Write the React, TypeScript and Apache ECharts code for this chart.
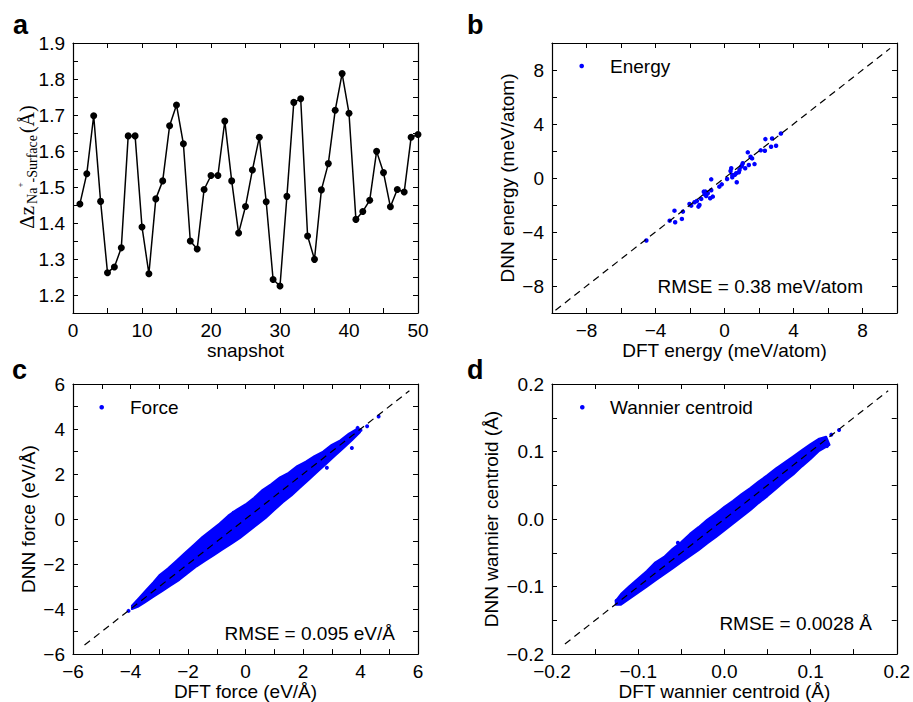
import React, { useEffect, useRef } from 'react';
import * as echarts from 'echarts';

// ---------- data ----------
const snapshot = [
  1, 2, 3, 4, 5, 6, 7, 8, 9, 10, 11, 12, 13, 14, 15, 16, 17, 18, 19, 20, 21, 22, 23, 24, 25,
  26, 27, 28, 29, 30, 31, 32, 33, 34, 35, 36, 37, 38, 39, 40, 41, 42, 43, 44, 45, 46, 47, 48, 49, 50,
];
const dzValues = [
  1.453, 1.537, 1.698, 1.46, 1.262, 1.278, 1.331, 1.642, 1.642, 1.389,
  1.259, 1.467, 1.517, 1.67, 1.728, 1.62, 1.35, 1.328, 1.493, 1.532,
  1.532, 1.683, 1.517, 1.372, 1.446, 1.547, 1.638, 1.459, 1.243, 1.225,
  1.474, 1.735, 1.745, 1.364, 1.299, 1.492, 1.565, 1.713, 1.815, 1.705,
  1.41, 1.432, 1.463, 1.599, 1.54, 1.445, 1.493, 1.486, 1.638, 1.646,
];

const energyPoints = [
  [-4.53, -4.63], [-3.18, -3.16], [-2.9, -2.42], [-2.86, -3.28], [-2.47, -3.03], [-2.41, -2.49],
  [-2.03, -1.92], [-1.93, -2.05], [-1.74, -1.8], [-1.6, -1.7], [-1.51, -2.12], [-1.45, -2.0],
  [-1.35, -1.55], [-1.2, -1.01], [-1.16, -1.21], [-1.1, -1.01], [-1.06, -1.33], [-0.97, -1.13],
  [-0.83, -1.5], [-0.77, -0.91], [-0.77, -0.1], [-0.68, -1.38], [-0.3, -0.64], [-0.16, -0.47],
  [0.15, -0.07], [0.35, 0.52], [0.39, 0.72], [0.45, 0.22], [0.45, 0.05], [0.6, 0.24], [0.68, 0.35],
  [0.71, -0.32], [0.83, 0.42], [0.87, 0.59], [0.97, 0.84], [1.06, 1.09], [1.01, 0.94], [1.2, 0.72],
  [1.35, 1.9], [1.41, 0.96], [1.51, 1.57], [1.6, 1.45], [1.74, 1.03], [2.1, 2.05], [2.34, 2.02],
  [2.37, 2.88], [2.7, 2.31], [2.76, 2.93], [2.99, 2.39], [3.27, 3.3],
];

// outline of the dense force cloud (upper edge left->right, lower edge right->left)
const forceBandUpper = [
  [-3.95, -3.85], [-3.7, -3.5], [-3.45, -3.15], [-3.2, -2.8], [-3.0, -2.5], [-2.7, -2.2],
  [-2.4, -1.85], [-2.1, -1.5], [-1.8, -1.15], [-1.5, -0.8], [-1.2, -0.5], [-0.9, -0.2],
  [-0.6, 0.15], [-0.3, 0.42], [0.0, 0.65], [0.3, 0.95], [0.6, 1.3], [0.9, 1.55], [1.2, 1.85],
  [1.5, 2.05], [1.8, 2.35], [2.1, 2.55], [2.4, 2.8], [2.7, 3.0], [3.0, 3.3], [3.3, 3.5],
  [3.6, 3.8], [3.85, 3.98], [3.98, 3.98],
];
const forceBandLower = [
  [3.98, 3.85], [3.7, 3.5], [3.4, 3.15], [3.1, 2.8], [2.8, 2.45], [2.5, 2.1], [2.2, 1.75],
  [1.9, 1.4], [1.6, 1.05], [1.3, 0.75], [1.0, 0.4], [0.7, 0.05], [0.4, -0.25], [0.1, -0.55],
  [-0.2, -0.85], [-0.5, -1.1], [-0.8, -1.35], [-1.1, -1.6], [-1.4, -1.85], [-1.7, -2.1],
  [-2.0, -2.4], [-2.3, -2.7], [-2.6, -2.95], [-2.9, -3.2], [-3.2, -3.45], [-3.5, -3.7],
  [-3.75, -3.9], [-3.95, -4.0],
];
const forcePoints = [
  [-4.07, -4.08], [-3.83, -3.86], [-3.54, -3.49], [-3.3, -3.1], [-0.41, 0.28], [1.38, 1.76],
  [2.83, 2.28], [3.7, 3.16], [4.23, 4.12], [4.63, 4.56], [3.9, 4.05], [4.0, 3.95],
];

const wannierBandUpper = [
  [-0.126, -0.121], [-0.12, -0.111], [-0.11, -0.099], [-0.1, -0.088], [-0.09, -0.077],
  [-0.08, -0.064], [-0.07, -0.056], [-0.06, -0.044], [-0.05, -0.034], [-0.04, -0.022],
  [-0.03, -0.012], [-0.02, -0.001], [-0.01, 0.008], [0.0, 0.018], [0.01, 0.027], [0.02, 0.037],
  [0.03, 0.046], [0.04, 0.056], [0.05, 0.065], [0.06, 0.075], [0.07, 0.084], [0.08, 0.093],
  [0.09, 0.102], [0.1, 0.111], [0.11, 0.119], [0.118, 0.122],
];
const wannierBandLower = [
  [0.122, 0.11], [0.11, 0.101], [0.1, 0.089], [0.09, 0.078], [0.08, 0.066], [0.07, 0.056],
  [0.06, 0.045], [0.05, 0.034], [0.04, 0.024], [0.03, 0.013], [0.02, 0.003], [0.01, -0.007],
  [0.0, -0.017], [-0.01, -0.027], [-0.02, -0.036], [-0.03, -0.046], [-0.04, -0.055],
  [-0.05, -0.064], [-0.06, -0.073], [-0.07, -0.082], [-0.08, -0.091], [-0.09, -0.1],
  [-0.1, -0.109], [-0.11, -0.118], [-0.12, -0.127], [-0.126, -0.127],
];
const wannierPoints = [
  [-0.125, -0.121], [-0.054, -0.035], [0.119, 0.108], [0.124, 0.125], [0.133, 0.132],
];

const diagEnergy = [-9.8, 9.6];
const diagForce = [-5.6, 5.7];
const diagWannier = [-0.185, 0.19];

// ---------- helpers ----------
const FONT = "'Liberation Sans', Arial, Helvetica, sans-serif";
const SERIF = "'Liberation Serif', 'Times New Roman', serif";
const MINUS = '\u2212';
const BLUE = '#0000ff';

function fmt(v: number, dec: number) {
  if (Math.abs(v) < 1e-9) v = 0;
  const s = v.toFixed(dec);
  return s.charAt(0) === '-' ? MINUS + s.slice(1) : s;
}
function isMajor(v: number, step: number) {
  const r = v / step;
  return Math.abs(r - Math.round(r)) < 1e-6;
}

function axisPair(
  kind: 'x' | 'y', gridIndex: number, min: number, max: number, interval: number,
  major: number, dec: number, name: string, nameGap: number,
) {
  const common = {
    type: 'value', gridIndex, min, max, interval,
    axisLine: { show: true, onZero: false, lineStyle: { color: '#000', width: 1.2 } },
    axisTick: { show: true, inside: true, length: 5, lineStyle: { color: '#000', width: 1 } },
    splitLine: { show: false },
  };
  const primary = {
    ...common,
    position: kind === 'x' ? 'bottom' : 'left',
    axisLabel: {
      show: true, margin: 8, fontSize: 19, color: '#000', fontFamily: FONT,
      showMinLabel: true, showMaxLabel: true,
      formatter: (v: number) => (isMajor(v, major) ? fmt(v, dec) : ''),
    },
    name, nameLocation: 'middle', nameGap,
    nameTextStyle: { fontSize: 19, color: '#000', fontFamily: FONT },
  };
  const mirror = {
    ...common,
    position: kind === 'x' ? 'top' : 'right',
    axisLabel: { show: false },
  };
  return [primary, mirror];
}

function diagSeries(xi: number, range: number[]) {
  return {
    type: 'line', xAxisIndex: xi, yAxisIndex: xi, silent: true, z: 5,
    data: [[range[0], range[0]], [range[1], range[1]]],
    symbol: 'none',
    lineStyle: { color: '#000', width: 1.2, type: [7, 5] },
  };
}

function bandSeries(name: string, xi: number, upper: number[][], lower: number[][]) {
  return {
    type: 'custom', name, xAxisIndex: xi, yAxisIndex: xi, silent: true, z: 2,
    data: [[0, 0]],
    renderItem: (_p: any, api: any) => {
      const pts = upper.concat(lower).map((p) => api.coord(p));
      return {
        type: 'polygon',
        shape: { points: pts },
        style: { fill: BLUE, stroke: BLUE, lineWidth: 2, lineJoin: 'round' },
      };
    },
  };
}

function scatterSeries(name: string, xi: number, data: number[][], size: number) {
  return {
    type: 'scatter', name, xAxisIndex: xi, yAxisIndex: xi, z: 3,
    data, symbol: 'circle', symbolSize: size,
    itemStyle: { color: BLUE, opacity: 1 },
  };
}

function label(text: string, x: number, y: number, opts: any = {}) {
  return {
    type: 'text', x, y, silent: true,
    style: {
      text, fill: '#000', fontSize: opts.fontSize || 19, fontFamily: FONT,
      align: opts.align || 'left', textAlign: opts.align || 'left',
      verticalAlign: 'middle', textVerticalAlign: 'middle',
      fontWeight: opts.bold ? 'bold' : 'normal',
    },
  };
}

function legendGraphic(text: string, dotX: number, dotY: number, textX: number) {
  return [
    { type: 'circle', silent: true, shape: { cx: dotX, cy: dotY, r: 2.3 }, style: { fill: BLUE } },
    label(text, textX, dotY),
  ];
}

export default function App() {
  const ref = useRef<HTMLDivElement>(null);

  useEffect(() => {
    if (!ref.current) return;
    const chart = echarts.init(ref.current, undefined, { renderer: 'svg' });

    const [ax0, ax1] = axisPair('x', 0, 0, 50, 5, 10, 0, 'snapshot', 26);
    const [ay0, ay1] = axisPair('y', 0, 1.15, 1.9, 0.05, 0.1, 1, '', 32);
    const [bx0, bx1] = axisPair('x', 1, -10, 10, 2, 4, 0, 'DFT energy (meV/atom)', 26);
    const [by0, by1] = axisPair('y', 1, -10, 10, 2, 4, 0, 'DNN energy (meV/atom)', 35);
    const [cx0, cx1] = axisPair('x', 2, -6, 6, 1, 2, 0, 'DFT force (eV/\u00c5)', 26);
    const [cy0, cy1] = axisPair('y', 2, -6, 6, 1, 2, 0, 'DNN force (eV/\u00c5)', 35);
    const [dx0, dx1] = axisPair('x', 3, -0.2, 0.2, 0.05, 0.1, 1, 'DFT wannier centroid (\u00c5)', 26);
    const [dy0, dy1] = axisPair('y', 3, -0.2, 0.2, 0.05, 0.1, 1, 'DNN wannier centroid (\u00c5)', 51);

    const dzLabel = {
      type: 'text', x: 27, y: 167, rotation: Math.PI / 2, silent: true,
      style: {
        text: '{d|\u0394z}{sp| }{sub|Na}{sup|+}{sub|-Surface}{sp| }{u|(\u00c5)}',
        align: 'center', textAlign: 'center',
        verticalAlign: 'middle', textVerticalAlign: 'middle',
        fill: '#000',
        rich: {
          d: { fontFamily: SERIF, fontSize: 21, lineHeight: 24, fill: '#000' },
          sp: { fontFamily: SERIF, fontSize: 8, lineHeight: 10, fill: '#000' },
          sub: { fontFamily: SERIF, fontSize: 14, lineHeight: 17, verticalAlign: 'bottom', fill: '#000' },
          sup: { fontFamily: SERIF, fontSize: 9, lineHeight: 16, verticalAlign: 'top', fill: '#000' },
          u: { fontFamily: SERIF, fontSize: 20, lineHeight: 24, fill: '#000' },
        },
      },
    };

    chart.setOption({
      animation: false,
      backgroundColor: '#fff',
      textStyle: { fontFamily: FONT },
      grid: [
        { left: 73, top: 43, width: 345, height: 270 },
        { left: 552, top: 43, width: 345, height: 270 },
        { left: 73, top: 384, width: 345, height: 271 },
        { left: 552, top: 384, width: 345, height: 271 },
      ],
      xAxis: [ax0, ax1, bx0, bx1, cx0, cx1, dx0, dx1],
      yAxis: [ay0, ay1, by0, by1, cy0, cy1, dy0, dy1],
      series: [
        {
          type: 'line', name: 'dz', xAxisIndex: 0, yAxisIndex: 0,
          data: snapshot.map((s, i) => [s, dzValues[i]]),
          symbol: 'circle', symbolSize: 7, showSymbol: true,
          itemStyle: { color: '#000', opacity: 1 },
          lineStyle: { color: '#000', width: 1.5 },
        },
        scatterSeries('Energy', 2, energyPoints, 4.5),
        diagSeries(2, diagEnergy),
        bandSeries('Force cloud', 4, forceBandUpper, forceBandLower),
        scatterSeries('Force', 4, forcePoints, 4),
        diagSeries(4, diagForce),
        bandSeries('Wannier cloud', 6, wannierBandUpper, wannierBandLower),
        scatterSeries('Wannier centroid', 6, wannierPoints, 4),
        diagSeries(6, diagWannier),
      ],
      graphic: [
        dzLabel,
        label('a', 13, 24.5, { bold: true, fontSize: 27 }),
        label('b', 467, 24.5, { bold: true, fontSize: 27 }),
        label('c', 12, 369.5, { bold: true, fontSize: 27 }),
        label('d', 467, 369.5, { bold: true, fontSize: 27 }),
        ...legendGraphic('Energy', 581.7, 66, 610),
        ...legendGraphic('Force', 101.7, 407.3, 130),
        ...legendGraphic('Wannier centroid', 582.3, 407.3, 610),
        label('RMSE = 0.38 meV/atom', 863, 286.7, { align: 'right' }),
        label('RMSE = 0.095 eV/\u00c5', 395, 633.8, { align: 'right' }),
        label('RMSE = 0.0028 \u00c5', 872, 623.3, { align: 'right' }),
      ],
    });

    return () => chart.dispose();
  }, []);

  return (
    <div
      ref={ref}
      style={{ position: 'absolute', left: 0, top: 0, width: 913, height: 702, background: '#fff' }}
    />
  );
}
